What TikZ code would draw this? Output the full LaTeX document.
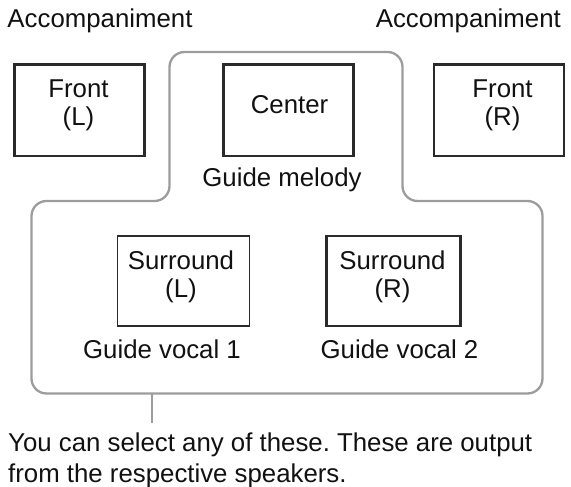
\documentclass[tikz,border=0pt]{standalone}
\usepackage{fontspec}
\setmainfont{Liberation Sans}
\frenchspacing
\definecolor{boxc}{HTML}{2A2A2A}
\definecolor{outl}{HTML}{9C9C9C}
\definecolor{txtc}{HTML}{111111}
\begin{document}
\begin{tikzpicture}[x=1pt,y=-1pt,
  spk/.style={draw=boxc, line width=2.6pt, inner sep=0pt, minimum width=130pt, minimum height=91pt},
  spkthin/.style={draw=boxc, line width=1.5pt, inner sep=0pt, minimum width=132pt, minimum height=90pt},
  lbl/.style={inner sep=0pt, text=txtc, font=\fontsize{25.8}{27}\selectfont},
  boxtxt/.style={lbl, align=center},
  outline/.style={draw=outl, line width=2.3pt, rounded corners=15pt}]
\useasboundingbox (0,0) rectangle (571,487);
% outline grouping the selectable speakers
\draw[outline] (169.5,201) -- (169.5,52) -- (402.5,52) -- (402.5,201) -- (542.5,201)
  -- (542.5,393.5) -- (31.5,393.5) -- (31.5,201) -- cycle;
\coordinate (tk) at (151.7,393.5);
\coordinate (tkend) at (151.7,423);
\draw[draw=outl, line width=2.3pt] (tk) -- (tkend);
% top labels
\node[lbl, anchor=base west] (accl) at (7.3,27.3) {Accompaniment};
\node[lbl, anchor=base east] (accr) at (561,27.3) {Accompaniment};
% front speakers
\node[spk] (fl) at (79.5,110.3) {};
\node[boxtxt, font=\fontsize{25.8}{27.5}\selectfont] (flt) at (78.5,105.3) {Front\\(L)};
\node[spk] (ce) at (288.3,110.3) {};
\node[lbl, anchor=base] (cet) at (289.5,113.5) {Center};
\node[spk] (fr) at (498.8,110.3) {};
\node[boxtxt, font=\fontsize{25.8}{27.5}\selectfont] (frt) at (502.5,105.3) {Front\\(R)};
\node[lbl, anchor=base] (gm) at (282,186.7) {Guide melody};
% surround speakers
\node[spkthin] (sl) at (183.3,280.8) {};
\node[boxtxt, font=\fontsize{25.8}{28}\selectfont] (slt) at (181,276.5) {Surround\\(L)};
\node[spkthin, line width=1.9pt] (sr) at (393.5,281) {};
\draw[draw=boxc, line width=2.8pt] (sr.north west) -- (sr.south west);
\draw[draw=boxc, line width=2.8pt] (sr.north east) -- (sr.south east);
\node[boxtxt, font=\fontsize{25.8}{28}\selectfont] (srt) at (392.5,276.5) {Surround\\(R)};
\node[lbl, anchor=base] (gv1) at (162,358) {Guide vocal 1};
\node[lbl, anchor=base] (gv2) at (399.5,358) {Guide vocal 2};
% note
\node[lbl, align=left, anchor=north west, font=\fontsize{25.8}{31}\selectfont] (note) at (8,433)
  {You can select any of these. These are output\\from the respective speakers.};
\end{tikzpicture}
\end{document}
